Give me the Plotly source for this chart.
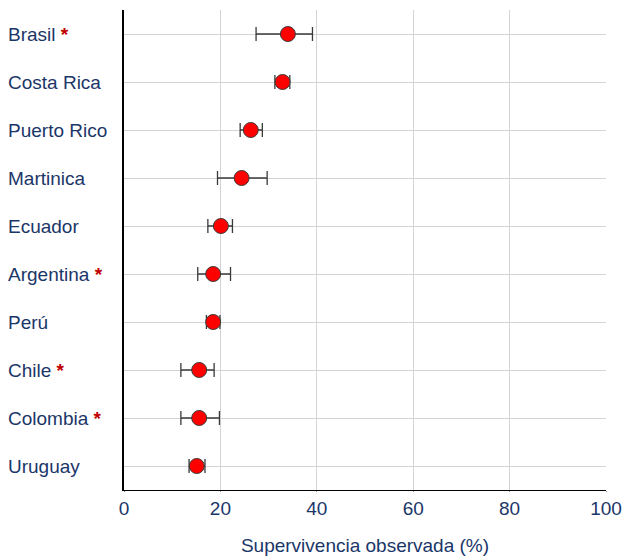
import plotly.graph_objects as go

countries = ["Brasil", "Costa Rica", "Puerto Rico", "Martinica", "Ecuador",
             "Argentina", "Perú", "Chile", "Colombia", "Uruguay"]
starred = [True, False, False, False, False, True, False, True, True, False]
survival = [34.0, 32.9, 26.3, 24.4, 20.1, 18.5, 18.5, 15.6, 15.6, 15.1]
ci_low = [27.4, 31.3, 24.1, 19.4, 17.4, 15.3, 17.1, 11.8, 11.8, 13.5]
ci_high = [39.1, 34.4, 28.7, 29.7, 22.5, 22.1, 19.9, 18.7, 19.8, 16.8]
x_ticks = [0, 20, 40, 60, 80, 100]

navy = "#1B3668"
font_fam = "Arial, Liberation Sans, sans-serif"

err_plus = [h - v for h, v in zip(ci_high, survival)]
err_minus = [v - l for l, v in zip(ci_low, survival)]

fig = go.Figure()
fig.add_trace(go.Scatter(
    x=survival, y=countries, mode="markers",
    marker=dict(size=15, color="#FF0000", line=dict(color="#3A3A3A", width=1)),
    error_x=dict(type="data", symmetric=False, array=err_plus, arrayminus=err_minus,
                 color="#3A3A3A", thickness=1.3, width=7),
    showlegend=False, hoverinfo="x+y",
))

annotations = []
for c, s in zip(countries, starred):
    txt = c + (" <span style='color:#C00000'><b>*</b></span>" if s else "")
    annotations.append(dict(
        x=-118 / 482, xref="paper", y=c, yref="y", text=txt, showarrow=False,
        xanchor="left", yanchor="middle",
        font=dict(family=font_fam, size=19, color=navy),
    ))

fig.update_layout(
    width=622, height=558,
    margin=dict(l=124, r=16, t=10, b=68),
    paper_bgcolor="white", plot_bgcolor="white",
    annotations=annotations,
    xaxis=dict(
        range=[0, 100], tickvals=x_ticks, showgrid=True, gridcolor="#D4D4D4", gridwidth=1,
        zeroline=False, showline=True, linecolor="#000000", linewidth=1,
        ticks="outside", ticklen=1, tickcolor="#888888", automargin=False,
        tickfont=dict(family=font_fam, size=19, color=navy),
        title=dict(text="Supervivencia observada (%)", standoff=20,
                   font=dict(family=font_fam, size=19, color=navy)),
    ),
    yaxis=dict(
        type="category", categoryarray=countries, range=[9.5, -0.5],
        showgrid=True, gridcolor="#D4D4D4", gridwidth=1, zeroline=False,
        showline=True, linecolor="#000000", linewidth=1.5, automargin=False,
        showticklabels=False, ticks="",
    ),
)

fig.write_html(
    "out.html",
    config={"displayModeBar": False},
    post_script="document.body.style.margin='0';document.body.style.overflow='hidden';",
)
